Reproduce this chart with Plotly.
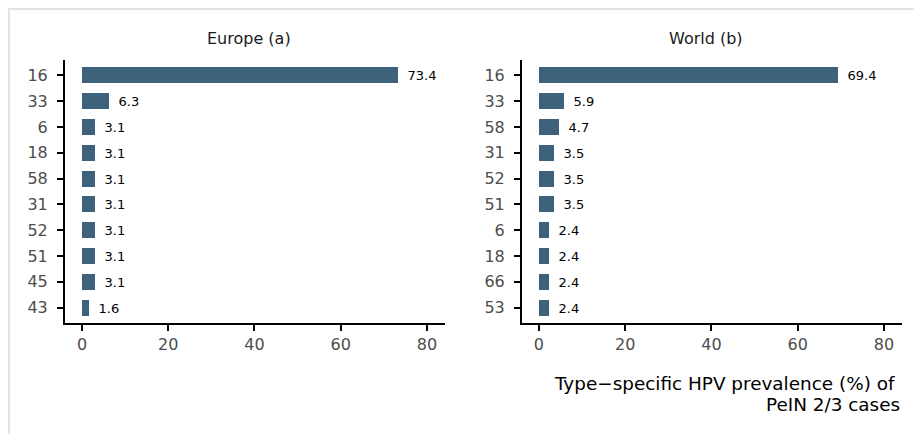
import plotly.graph_objects as go

# HPV types, ordered top to bottom as shown
europe_types = ["16", "33", "6", "18", "58", "31", "52", "51", "45", "43"]
europe_values = [73.4, 6.3, 3.1, 3.1, 3.1, 3.1, 3.1, 3.1, 3.1, 1.6]

world_types = ["16", "33", "58", "31", "52", "51", "6", "18", "66", "53"]
world_values = [69.4, 5.9, 4.7, 3.5, 3.5, 3.5, 2.4, 2.4, 2.4, 2.4]

x_ticks = [0, 20, 40, 60, 80]

BAR_COLOR = "#3E627C"
FONT = "DejaVu Sans"
W, H = 914, 426  # page body has an 8px margin

fig = go.Figure()

for types, values, xa, ya in [
    (europe_types, europe_values, "x", "y"),
    (world_types, world_values, "x2", "y2"),
]:
    fig.add_trace(go.Bar(
        x=values[::-1],
        y=types[::-1],
        orientation="h",
        width=0.62,
        marker=dict(color=BAR_COLOR, line=dict(width=0)),
        text=["\u2002" + f"{v:.1f}" for v in values[::-1]],
        textposition="outside",
        cliponaxis=False,
        textfont=dict(family=FONT, size=13, color="#000000"),
        xaxis=xa,
        yaxis=ya,
        showlegend=False,
        hoverinfo="x+y",
    ))

axis_common = dict(
    showgrid=False,
    zeroline=False,
    showline=True,
    linecolor="#000000",
    linewidth=2,
    ticks="outside",
    ticklen=6,
    tickwidth=1.5,
    tickcolor="#000000",
    tickfont=dict(family=FONT, size=16, color="#4D4D4D"),
)

ydom = [1 - 315 / H, 1 - 52 / H]

fig.update_layout(
    width=W,
    height=H,
    margin=dict(l=0, r=0, t=0, b=0),
    paper_bgcolor="white",
    plot_bgcolor="white",
    font=dict(family=FONT),
    bargap=0,
    xaxis=dict(domain=[57 / W, 437 / W], range=[-3.94, 84.2], tickvals=x_ticks,
               anchor="y", **axis_common),
    yaxis=dict(domain=ydom, range=[-0.6, 9.6], type="category",
               categoryorder="array", categoryarray=europe_types[::-1],
               anchor="x", ticklabelstandoff=6, **axis_common),
    xaxis2=dict(domain=[514 / W, 894 / W], range=[-3.93, 84.2], tickvals=x_ticks,
                anchor="y2", **axis_common),
    yaxis2=dict(domain=ydom, range=[-0.6, 9.6], type="category",
                categoryorder="array", categoryarray=world_types[::-1],
                anchor="x2", ticklabelstandoff=6, **axis_common),
    annotations=[
        dict(text="Europe (a)", x=240.5 / W, y=1 - 30 / H, xref="paper", yref="paper",
             showarrow=False, xanchor="center", yanchor="middle",
             font=dict(family=FONT, size=16, color="#1A1A1A")),
        dict(text="World (b)", x=698 / W, y=1 - 30 / H, xref="paper", yref="paper",
             showarrow=False, xanchor="center", yanchor="middle",
             font=dict(family=FONT, size=16, color="#1A1A1A")),
        dict(text="Type\u2212specific HPV prevalence (%) of",
             x=889 / W, y=1 - 375 / H, xref="paper", yref="paper",
             showarrow=False, xanchor="right", yanchor="middle", align="right",
             font=dict(family=FONT, size=18.4, color="#000000")),
        dict(text="PeIN 2/3 cases",
             x=894 / W, y=1 - 396 / H, xref="paper", yref="paper",
             showarrow=False, xanchor="right", yanchor="middle", align="right",
             font=dict(family=FONT, size=18.4, color="#000000")),
    ],
    shapes=[
        dict(type="line", xref="paper", yref="paper", x0=0, x1=1,
             y0=1 - 1 / H, y1=1 - 1 / H, line=dict(color="#E3E3E3", width=2)),
        dict(type="line", xref="paper", yref="paper", x0=1 / W, x1=1 / W,
             y0=0, y1=1, line=dict(color="#E3E3E3", width=2)),
    ],
)

fig.write_html("out.html")
